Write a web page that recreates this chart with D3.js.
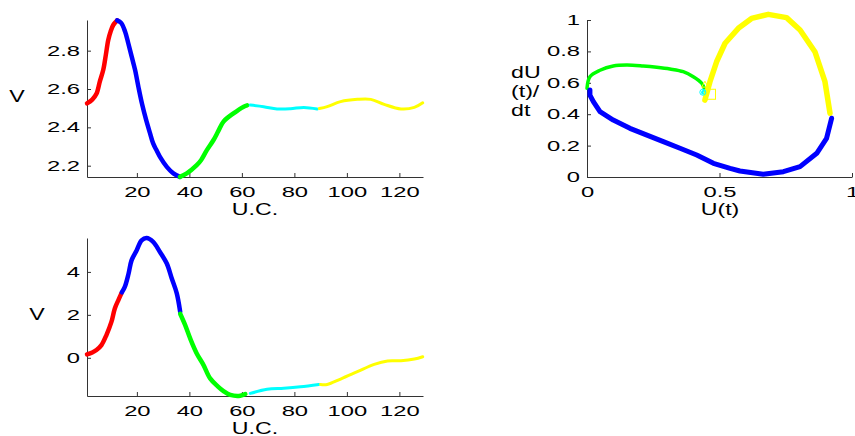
<!DOCTYPE html>
<html>
<head>
<meta charset="utf-8">
<script src="https://cdn.jsdelivr.net/npm/d3@7"></script>
<style>
  body { margin: 0; background: #fff; }
  svg { display: block; }
  text { font-family: "Liberation Sans", Arial, sans-serif; fill: #000; }
</style>
</head>
<body>
<svg id="fig" width="855" height="436"></svg>
<script>
// top left: V against U.C. (points are [U.C., V])
var topRed = [[1, 2.525], [3, 2.545], [4.6, 2.575], [5.9, 2.64], [7.2, 2.70], [8.2, 2.78], [9.1, 2.856], [10, 2.9], [11, 2.934], [12.5, 2.958]];
var topBlue = [[12.5, 2.958], [14, 2.945], [15.5, 2.9], [16.7, 2.84], [18, 2.77], [19.3, 2.70], [20.6, 2.61], [22, 2.52], [23.5, 2.44], [25, 2.37], [26.2, 2.316], [27.5, 2.28], [28.8, 2.246], [31.4, 2.194], [33.9, 2.16], [36.4, 2.142]];
var topGreen = [[36.4, 2.142], [39, 2.16], [42.8, 2.203], [44.5, 2.23], [46.6, 2.28], [49.2, 2.334], [51, 2.38], [53, 2.43], [56.8, 2.473], [60.7, 2.508], [62, 2.515]];
var topCyan = [[63.2, 2.516], [68.3, 2.508], [73.4, 2.496], [78.5, 2.497], [83.6, 2.504], [88.7, 2.496]];
var topYellow = [[89.5, 2.498], [92.5, 2.508], [97.6, 2.534], [104, 2.546], [109.1, 2.546], [114.2, 2.52], [120.6, 2.496], [125.7, 2.504], [128.9, 2.528]];

// bottom left
var botRed = [[1, 0.16], [3, 0.25], [4.6, 0.36], [6.5, 0.59], [8.4, 1.06], [10.3, 1.67], [11.6, 2.3], [13, 2.7], [14.1, 3.0]];
var botBlue = [[14.3, 3.05], [15.4, 3.3], [16.8, 3.9], [18, 4.55], [19.9, 5.0], [21.8, 5.47], [23.7, 5.58], [26.2, 5.4], [28.8, 4.93], [31.4, 4.39], [33.3, 3.69], [35.2, 3.0], [36.5, 2.14]];
var botGreen = [[36.5, 2.05], [38.4, 1.52], [40.3, 0.9], [42.8, 0.2], [45.4, -0.34], [47.9, -0.96], [50.8, -1.33], [53, -1.55], [55.6, -1.73], [59.4, -1.77], [61.3, -1.69]];
var botCyan = [[63.2, -1.66], [69.6, -1.47], [76, -1.42], [82.3, -1.35], [89.3, -1.24]];
var botYellow = [[90, -1.24], [92.5, -1.24], [97.6, -0.99], [104, -0.65], [110.4, -0.31], [115.5, -0.15], [120.6, -0.14], [125.7, -0.06], [128.9, 0.05]];

// phase plot: [U(t), dU(t)/dt]
var phGreen = [[0, 0.565], [0.011, 0.639], [0.049, 0.68], [0.099, 0.707], [0.15, 0.713], [0.212, 0.707], [0.263, 0.699], [0.313, 0.688], [0.363, 0.671], [0.401, 0.639], [0.433, 0.597], [0.445, 0.554]];
var phCyan = [[0.445, 0.554], [0.438, 0.548], [0.434, 0.54], [0.437, 0.532], [0.445, 0.535]];
var phYellow = [[0.445, 0.49], [0.464, 0.607], [0.489, 0.734], [0.521, 0.852], [0.571, 0.947], [0.621, 1.01], [0.684, 1.036], [0.753, 1.015], [0.804, 0.936], [0.86, 0.798], [0.898, 0.607], [0.917, 0.406]];
var phBlue = [[0.923, 0.374], [0.904, 0.246], [0.867, 0.151], [0.804, 0.066], [0.741, 0.034], [0.665, 0.017], [0.577, 0.038], [0.54, 0.055], [0.477, 0.087], [0.414, 0.14], [0.351, 0.183], [0.288, 0.225], [0.162, 0.31], [0.099, 0.363], [0.049, 0.416], [0.024, 0.48], [0.011, 0.522], [0.011, 0.554]];
var phSquare = [0.466, 0.527];
var phCircle = [0.437, 0.54];
var phTriangle = [0.445, 0.585];

var ucTicks = [20, 40, 60, 80, 100, 120];
var topVTicks = [2.2, 2.4, 2.6, 2.8];
var botVTicks = [0, 2, 4];
var phXTicks = [0, 0.5, 1];
var phYTicks = [0, 0.2, 0.4, 0.6, 0.8, 1];

var svg = d3.select("#fig");
var TICK_STRETCH = 1.7, LABEL_STRETCH = 1.45;
var fmt = d3.format("~g");

function stretchText(sel, k) {
    sel.each(function () {
        var t = d3.select(this);
        var x = +t.attr("x") || 0;
        t.attr("x", 0).attr("transform", "translate(" + x + ",0) scale(" + k + ",1)");
    });
}

function drawAxes(x, y, xTicks, yTicks) {
    var g = svg.append("g");
    var xAxis = g.append("g")
        .attr("transform", "translate(0," + y.range()[0] + ")")
        .call(d3.axisBottom(x).tickValues(xTicks).tickFormat(fmt).tickSize(-4).tickSizeOuter(0).tickPadding(10));
    var yAxis = g.append("g")
        .attr("transform", "translate(" + x.range()[0] + ",0)")
        .call(d3.axisLeft(y).tickValues(yTicks).tickFormat(fmt).tickSize(-4).tickSizeOuter(0).tickPadding(7));
    [xAxis, yAxis].forEach(function (a) {
        a.select(".domain").attr("stroke", "#333");
        a.selectAll(".tick line").attr("stroke", "#333");
        a.selectAll(".tick text").style("font-size", "14px").attr("fill", "#000");
        stretchText(a.selectAll(".tick text"), TICK_STRETCH);
    });
}

function drawSeg(x, y, data, color, width, curve) {
    var line = d3.line()
        .x(function (d) { return x(d[0]); })
        .y(function (d) { return y(d[1]); })
        .curve(curve || d3.curveCatmullRom);
    svg.append("path")
        .datum(data)
        .attr("d", line)
        .attr("fill", "none")
        .attr("stroke", color)
        .attr("stroke-width", width)
        .attr("stroke-linecap", "round")
        .attr("stroke-linejoin", "round");
}

function label(txt, x, y, anchor) {
    svg.append("text")
        .attr("text-anchor", anchor || "middle")
        .attr("transform", "translate(" + x + "," + y + ") scale(" + LABEL_STRETCH + ",1)")
        .style("font-size", "16px")
        .text(txt);
}

// top left
var x1 = d3.scaleLinear().domain([1, 129]).range([87, 423]);
var y1 = d3.scaleLinear().domain([2.141, 2.96]).range([177, 20]);
drawAxes(x1, y1, ucTicks, topVTicks);
drawSeg(x1, y1, topRed, "#ff0000", 4.5);
drawSeg(x1, y1, topBlue, "#0000ff", 4.5);
drawSeg(x1, y1, topGreen, "#00ff00", 4.5);
drawSeg(x1, y1, topCyan, "#00ffff", 3);
drawSeg(x1, y1, topYellow, "#ffff00", 3);
label("V", 17, 102);
label("U.C.", 255, 215);

// bottom left
var x2 = d3.scaleLinear().domain([1, 129]).range([87, 423]);
var y2 = d3.scaleLinear().domain([-1.78, 5.58]).range([396, 238]);
drawAxes(x2, y2, ucTicks, botVTicks);
drawSeg(x2, y2, botRed, "#ff0000", 4.5);
drawSeg(x2, y2, botBlue, "#0000ff", 4.5);
drawSeg(x2, y2, botGreen, "#00ff00", 4.5);
drawSeg(x2, y2, botCyan, "#00ffff", 3);
drawSeg(x2, y2, botYellow, "#ffff00", 3);
label("V", 37, 320);
label("U.C.", 255, 434);

// phase plot
var x3 = d3.scaleLinear().domain([0, 1]).range([587, 852]);
var y3 = d3.scaleLinear().domain([0, 1]).range([177, 20]);
drawAxes(x3, y3, phXTicks, phYTicks);
drawSeg(x3, y3, phGreen, "#00ff00", 3.5);
drawSeg(x3, y3, phCyan, "#00ffff", 2);
drawSeg(x3, y3, phYellow, "#ffff00", 5.5, d3.curveLinear);
drawSeg(x3, y3, phBlue, "#0000ff", 5, d3.curveLinear);
svg.append("rect")
    .attr("x", x3(phSquare[0]) - 5).attr("y", y3(phSquare[1]) - 5)
    .attr("width", 10).attr("height", 10)
    .attr("fill", "none").attr("stroke", "#ffff00").attr("stroke-width", 1);
svg.append("circle")
    .attr("cx", x3(phCircle[0])).attr("cy", y3(phCircle[1])).attr("r", 3)
    .attr("fill", "none").attr("stroke", "#00ffff").attr("stroke-width", 1);
svg.append("path")
    .attr("d", d3.symbol().type(d3.symbolTriangle).size(20)())
    .attr("transform", "translate(" + x3(phTriangle[0]) + "," + y3(phTriangle[1]) + ")")
    .attr("fill", "none").attr("stroke", "#ffff00").attr("stroke-width", 1);
label("U(t)", 720, 215);
label("dU", 511, 78, "start");
label("(t)/", 511, 97, "start");
label("dt", 511, 116, "start");
</script>
</body>
</html>
